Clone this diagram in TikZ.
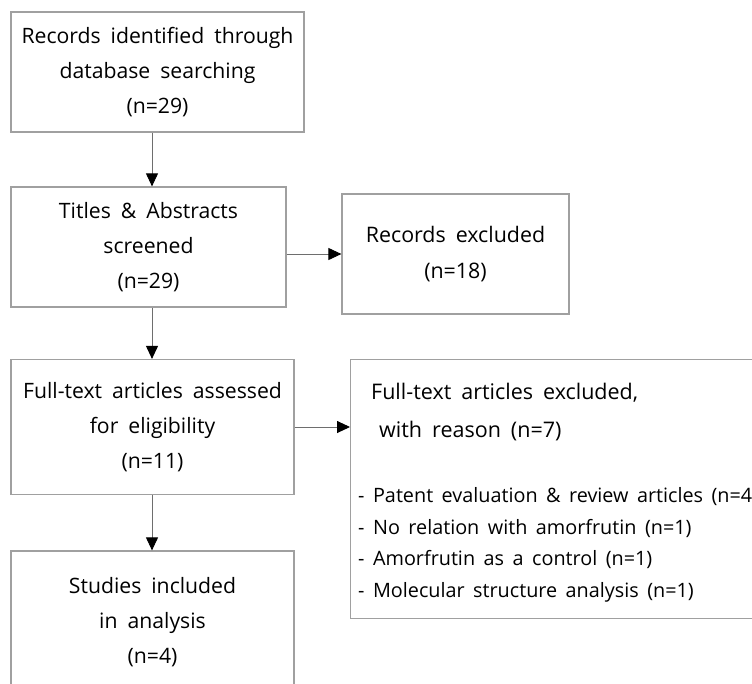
\documentclass[tikz,border=0pt]{standalone}
\usepackage{fontspec}
\setmainfont{Open Sans}
\usetikzlibrary{arrows.meta}
\definecolor{boxgray}{HTML}{A0A0A0}
\definecolor{linegray}{HTML}{6E6E6E}
\newcommand{\flowfont}[3][10pt]{\fontsize{#2}{#3}\selectfont\spaceskip=#1 plus 1pt\relax}

\begin{document}
\begin{tikzpicture}
  [x=1pt, y=-1pt,
   every node/.style={font=\flowfont{21.2}{35}},
   flowbox/.style={draw=boxgray, line width=1.2pt, align=center, inner sep=0pt},
   reasons/.style={align=left, inner sep=0pt, font=\flowfont[8.5pt]{19.8}{31.7}},
   arr/.style={draw=linegray, line width=0.9pt, -{Triangle[length=13pt,width=12pt,color=black]}}]

  \useasboundingbox (0,0) rectangle (752,683);
  \clip (0,0) rectangle (752,683);

  %Draw main column of boxes
  \draw node[flowbox, minimum width=293pt, minimum height=120pt] at (157.5,72) (ident) {Records identified through\\database searching\\(n=29)};
  \draw node[flowbox, minimum width=275pt, minimum height=120pt] at (148.5,247) (screen) {Titles \& Abstracts\\screened\\(n=29)};
  \draw node[flowbox, minimum width=283pt, minimum height=135pt] at (152.5,427) (full) {Full-text articles assessed\\for eligibility\\(n=11)};
  \draw node[flowbox, minimum width=283pt, minimum height=142pt] at (152.5,622) (incl) {Studies included\\in analysis\\(n=4)};

  %Draw exclusion boxes
  \draw node[flowbox, minimum width=227pt, minimum height=120pt, font=\flowfont{21.4}{36}] at (455.5,254) (excl) {Records excluded\\(n=18)};
  \draw node[flowbox, anchor=north west, minimum width=440pt, minimum height=259pt] at (350,359) (exfull) {};
  \node[reasons, anchor=north west] at ([xshift=8pt, yshift=-24pt]exfull.north west) (exreason)
    {\hspace*{13pt}{\flowfont{21.5}{32}Full-text articles excluded,}\\[6.5pt]
     \hspace*{21pt}{\flowfont{21.5}{32}with reason (n=7)}\\[33pt]
     - Patent evaluation \& review articles (n=4)\\
     - No relation with amorfrutin (n=1)\\
     - Amorfrutin as a control (n=1)\\
     - Molecular structure analysis (n=1)};

  %Draw connectors
  \coordinate (spine) at (152,0);
  \draw[arr] (ident.south -| spine) -- (screen.north -| spine);
  \draw[arr] (screen.south -| spine) -- (full.north -| spine);
  \draw[arr] (full.south -| spine) -- (incl.north -| spine);
  \draw[arr] (excl.west -| screen.east) -- (excl.west);
  \draw[arr] (full.east) -- (full.east -| exfull.west);
\end{tikzpicture}
\end{document}
